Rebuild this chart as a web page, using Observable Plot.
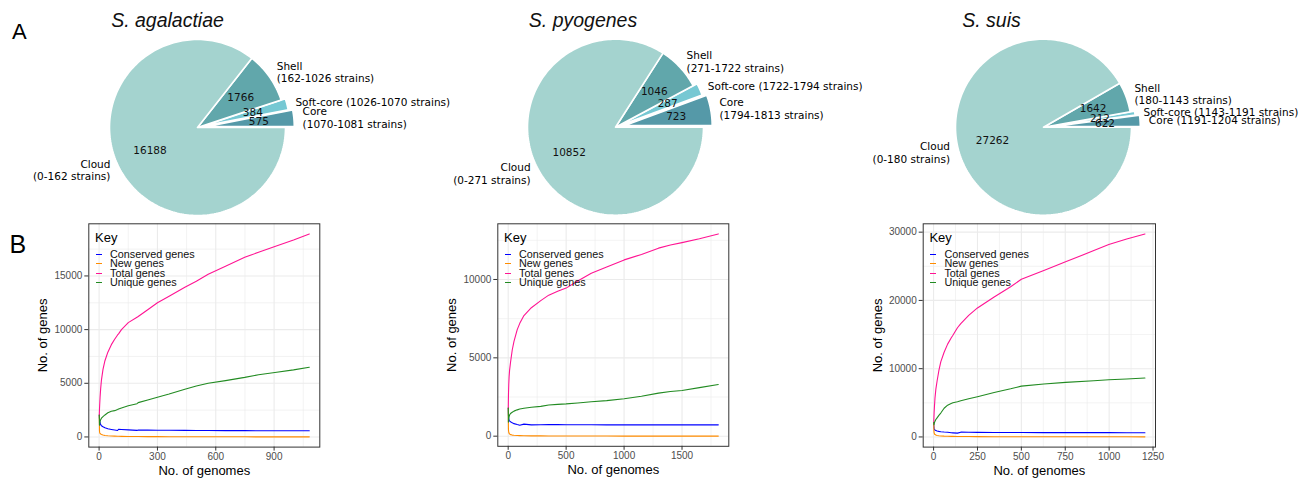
<!DOCTYPE html>
<html><head><meta charset="utf-8">
<script src="https://cdn.jsdelivr.net/npm/d3@7"></script>
<script src="https://cdn.jsdelivr.net/npm/@observablehq/plot@0.6"></script>
<style>
body{margin:0;background:#fff;}
#fig{position:relative;width:1307px;height:478px;overflow:hidden;font-family:"Liberation Sans",Arial,sans-serif;background:#fff;}
#fig svg{position:absolute;}
.t{position:absolute;line-height:1;white-space:nowrap;color:#000;font-family:"Liberation Sans",Arial,sans-serif;}
</style></head><body><div id="fig"></div>
<script>
// ---------- DATA ----------
const speciesNames = ["S. agalactiae", "S. pyogenes", "S. suis"];
const pieCategories = ["Core", "Soft-core", "Shell", "Cloud"];
const agaPieCounts = [575, 384, 1766, 16188];
const agaPieRanges = ["1070-1081", "1026-1070", "162-1026", "0-162"];
const pyoPieCounts = [723, 287, 1046, 10852];
const pyoPieRanges = ["1794-1813", "1722-1794", "271-1722", "0-271"];
const suiPieCounts = [622, 212, 1642, 27262];
const suiPieRanges = ["1191-1204", "1143-1191", "180-1143", "0-180"];

const seriesNames = ["Conserved genes", "New genes", "Total genes", "Unique genes"];

const agaGenomes   = [1, 2, 3, 5, 8, 12, 20, 30, 45, 63, 80, 95, 100, 115, 150, 195, 201, 250, 300, 360, 441, 500, 561, 650, 749, 820, 904, 1000, 1081];
const agaTotal     = [2050, 2600, 3000, 3700, 4500, 5300, 6300, 7100, 7900, 8600, 9100, 9500, 9600, 10000, 10650, 11150, 11220, 11850, 12500, 13100, 13950, 14500, 15150, 15900, 16750, 17200, 17750, 18350, 18913];
const agaConserved = [2050, 1700, 1500, 1300, 1150, 1050, 950, 850, 760, 700, 650, 600, 720, 700, 660, 610, 650, 640, 630, 620, 610, 600, 595, 590, 585, 582, 580, 578, 575];
const agaNew       = [2050, 550, 400, 330, 280, 230, 180, 140, 110, 90, 75, 65, 60, 55, 45, 38, 38, 32, 28, 24, 20, 18, 16, 14, 12, 11, 10, 9, 8];
const agaUnique    = [2050, 1100, 1250, 1450, 1600, 1750, 1900, 2050, 2250, 2400, 2450, 2550, 2600, 2700, 2900, 3100, 3200, 3450, 3700, 4000, 4450, 4750, 5000, 5250, 5550, 5800, 6000, 6250, 6500];

const pyoGenomes   = [1, 2, 3, 5, 8, 12, 20, 35, 50, 78, 100, 136, 200, 281, 350, 427, 500, 600, 717, 850, 1001, 1150, 1297, 1400, 1500, 1650, 1813];
const pyoTotal     = [1800, 2400, 2800, 3300, 3800, 4200, 4700, 5500, 6050, 6800, 7200, 7700, 8200, 8650, 9000, 9250, 9450, 9900, 10400, 10800, 11250, 11600, 12000, 12200, 12350, 12600, 12908];
const pyoConserved = [1800, 1450, 1250, 1100, 1020, 980, 920, 850, 800, 740, 700, 770, 720, 730, 740, 735, 730, 728, 726, 725, 725, 724, 724, 723, 723, 723, 723];
const pyoNew       = [1800, 500, 350, 250, 180, 140, 100, 70, 55, 40, 35, 28, 22, 18, 15, 13, 12, 10, 9, 8, 7, 6, 6, 5, 5, 5, 4];
const pyoUnique    = [1800, 900, 1000, 1150, 1250, 1350, 1450, 1530, 1600, 1680, 1730, 1780, 1850, 1900, 1990, 2030, 2060, 2120, 2200, 2270, 2390, 2550, 2750, 2850, 2920, 3100, 3300];

const suiGenomes   = [1, 2, 3, 5, 8, 13, 20, 30, 41, 60, 80, 100, 110, 136, 155, 200, 250, 345, 439, 500, 628, 752, 913, 998, 1100, 1204];
const suiTotal     = [2100, 2900, 3500, 4500, 5700, 7000, 8200, 9700, 11000, 12400, 13600, 14500, 14900, 16000, 16600, 17800, 18900, 20500, 22000, 23100, 24400, 25650, 27300, 28200, 29000, 29738];
const suiConserved = [2100, 1500, 1250, 1100, 1000, 950, 880, 820, 770, 720, 680, 620, 600, 560, 700, 680, 670, 660, 650, 645, 640, 635, 630, 627, 624, 622];
const suiNew       = [2100, 900, 600, 450, 350, 280, 220, 180, 150, 120, 100, 85, 80, 70, 65, 55, 48, 40, 35, 32, 28, 25, 22, 20, 19, 18];
const suiUnique    = [2100, 1800, 1900, 2100, 2300, 2550, 2800, 3150, 3500, 4200, 4650, 4900, 5000, 5150, 5300, 5600, 5900, 6500, 7050, 7450, 7750, 7990, 8230, 8380, 8500, 8632];

const agaXTicks = [0, 300, 600, 900];
const agaYTicks = [0, 5000, 10000, 15000];
const pyoXTicks = [0, 500, 1000, 1500];
const pyoYTicks = [0, 5000, 10000];
const suiXTicks = [0, 250, 500, 750, 1000, 1250];
const suiYTicks = [0, 10000, 20000, 30000];

// ---------- STYLE / LAYOUT ----------
const pieColors = {"Core": "#5599a8", "Soft-core": "#76c8d3", "Shell": "#61a7ab", "Cloud": "#a4d3cf"};
const pieExplode = {"Core": 0.1, "Soft-core": 0.05, "Shell": 0, "Cloud": 0};
const lineColors = ["#0000ff", "#ff8c00", "#ff1493", "#228b22"];
const fig = document.getElementById("fig");
const SANS = "'Liberation Sans', Arial, sans-serif";
const MPL = "'DejaVu Sans', sans-serif";

function addText(txt, left, top, size) {
  const d = document.createElement("div");
  d.className = "t"; d.textContent = txt;
  d.style.left = left + "px"; d.style.top = top + "px"; d.style.fontSize = size + "px";
  fig.appendChild(d); return d;
}

// ---------- PIES ----------
const pies = [
  {counts: agaPieCounts, ranges: agaPieRanges, cx: 197, cy: 127, r: 88, tx: 167, coreOneLine: false},
  {counts: pyoPieCounts, ranges: pyoPieRanges, cx: 615, cy: 126.7, r: 88, tx: 582.5, coreOneLine: false},
  {counts: suiPieCounts, ranges: suiPieRanges, cx: 1043, cy: 126.7, r: 88, tx: 991, coreOneLine: true}
];

const pieMarks = [];
const labelRight = [], labelLeft = [], pctRows = [], titleRows = [];
pies.forEach((p, si) => {
  const total = d3.sum(p.counts);
  let acc = 0;
  pieCategories.forEach((cat, i) => {
    const a0 = acc / total * 2 * Math.PI; acc += p.counts[i];
    const a1 = acc / total * 2 * Math.PI;
    const mid = (a0 + a1) / 2;
    const ex = pieExplode[cat] * p.r;
    const ox = p.cx + ex * Math.cos(mid), oy = p.cy - ex * Math.sin(mid);
    const n = Math.max(3, Math.ceil((a1 - a0) / (Math.PI / 120)));
    const pts = [{x: ox, y: oy}];
    for (let k = 0; k <= n; k++) {
      const a = a0 + (a1 - a0) * k / n;
      pts.push({x: ox + p.r * Math.cos(a), y: oy - p.r * Math.sin(a)});
    }
    pts.push({x: ox, y: oy});
    pieMarks.push(Plot.line(pts, {x: "x", y: "y", fill: pieColors[cat], stroke: "white", strokeWidth: 1.6, strokeLinejoin: "miter"}));
    const oneLine = cat === "Soft-core" || (cat === "Core" && p.coreOneLine);
    const text = oneLine ? `${cat} (${p.ranges[i]} strains)` : `${cat}\n(${p.ranges[i]} strains)`;
    const lx = ox + 1.1 * p.r * Math.cos(mid), ly = oy - 1.1 * p.r * Math.sin(mid);
    (Math.cos(mid) >= 0 ? labelRight : labelLeft).push({x: lx, y: ly, text});
    pctRows.push({x: ox + 0.6 * p.r * Math.cos(mid), y: oy - 0.6 * p.r * Math.sin(mid), text: String(p.counts[i])});
  });
  titleRows.push({x: p.tx, y: 20.6, text: speciesNames[si]});
});

const piePlot = Plot.plot({
  width: 1307, height: 220, margin: 0,
  x: {domain: [0, 1307], range: [0, 1307], axis: null},
  y: {domain: [0, 220], range: [0, 220], axis: null},
  style: {background: "none", overflow: "visible"},
  marks: [
    ...pieMarks,
    Plot.text(labelRight, {x: "x", y: "y", text: "text", textAnchor: "start", lineAnchor: "middle", lineHeight: 1.2, fontSize: 10.5, fontFamily: MPL, fill: "#000"}),
    Plot.text(labelLeft, {x: "x", y: "y", text: "text", textAnchor: "end", lineAnchor: "middle", lineHeight: 1.2, fontSize: 10.5, fontFamily: MPL, fill: "#000"}),
    Plot.text(pctRows, {x: "x", y: "y", text: "text", textAnchor: "middle", lineAnchor: "middle", fontSize: 10.5, fontFamily: MPL, fill: "#111"}),
    Plot.text(titleRows, {x: "x", y: "y", text: "text", textAnchor: "middle", lineAnchor: "middle", fontSize: 19.5, fontStyle: "italic", fontFamily: SANS, fill: "#111"})
  ]
});
piePlot.style.left = "0px"; piePlot.style.top = "0px";
fig.appendChild(piePlot);

// ---------- LINE PANELS ----------
function minorBetween(ticks, dom) {
  const step = ticks[1] - ticks[0];
  const out = [];
  for (let v = ticks[0] - step / 2; v <= dom[1]; v += step) if (v >= dom[0]) out.push(v);
  return out;
}

function panel(cfg) {
  const rows = [];
  const vals = [cfg.cons, cfg.neu, cfg.tot, cfg.uni];
  seriesNames.forEach((s, k) => cfg.genomes.forEach((g, i) => rows.push({g, v: vals[k][i], s})));
  const gx = d3.extent(cfg.genomes), gy = d3.extent(rows, d => d.v);
  const xdom = [gx[0] - 0.05 * (gx[1] - gx[0]), gx[1] + 0.05 * (gx[1] - gx[0])];
  const ylo = Math.min(0, gy[0]);
  const ydom = [ylo - 0.05 * (gy[1] - ylo), gy[1] + 0.05 * (gy[1] - ylo)];
  const fmt = d => String(d);
  const el = Plot.plot({
    width: cfg.width, height: 258,
    marginLeft: cfg.ml, marginRight: cfg.mr, marginTop: 3.3, marginBottom: cfg.mb,
    x: {domain: xdom}, y: {domain: ydom},
    color: {domain: seriesNames, range: lineColors},
    style: {background: "none", overflow: "visible", fontFamily: SANS},
    marks: [
      Plot.gridX(minorBetween(cfg.xt, xdom), {stroke: "#ebebeb", strokeOpacity: 1, strokeWidth: 0.6}),
      Plot.gridY(minorBetween(cfg.yt, ydom), {stroke: "#ebebeb", strokeOpacity: 1, strokeWidth: 0.6}),
      Plot.gridX(cfg.xt, {stroke: "#ebebeb", strokeOpacity: 1, strokeWidth: 1.1}),
      Plot.gridY(cfg.yt, {stroke: "#ebebeb", strokeOpacity: 1, strokeWidth: 1.1}),
      Plot.line(rows, {x: "g", y: "v", z: "s", stroke: "s", strokeWidth: 1.1}),
      Plot.frame({stroke: "#333", strokeWidth: 1}),
      Plot.axisX(cfg.xt, {tickSize: 4, tickPadding: 2, stroke: "#333", fill: "#4d4d4d", fontSize: 10, label: null, tickFormat: fmt}),
      Plot.axisY(cfg.yt, {tickSize: 4, tickPadding: 2.5, stroke: "#333", fill: "#4d4d4d", fontSize: 10, label: null, tickFormat: fmt}),
      Plot.text(["No. of genes"], {text: d => d, frameAnchor: "left", dx: -45.7, rotate: -90, textAnchor: "middle", lineAnchor: "middle", fontSize: 13, fill: "#000"}),
      Plot.text(["No. of genomes"], {text: d => d, frameAnchor: "bottom", dy: 23.3, textAnchor: "middle", lineAnchor: "middle", fontSize: 13, fill: "#000"})
    ]
  });
  el.style.left = cfg.left + "px"; el.style.top = "220px";
  fig.appendChild(el);

  // legend (inside panel, top-left)
  const FL = cfg.left + cfg.ml;
  addText("Key", FL + 6.7, 231, 13);
  const baselines = [258, 267.4, 276.8, 286.3];
  seriesNames.forEach((s, k) => {
    const key = document.createElement("div");
    key.style.cssText = `position:absolute;left:${FL + 7.4}px;top:${baselines[k] - 4.3}px;width:6px;height:1.2px;background:${lineColors[k]};`;
    fig.appendChild(key);
    const t = addText(s, FL + 21.7, baselines[k] - 9.1, 10.8);
    t.style.color = "#111";
  });
}

panel({genomes: agaGenomes, cons: agaConserved, neu: agaNew, tot: agaTotal, uni: agaUnique,
       xt: agaXTicks, yt: agaYTicks, left: 0, width: 330, ml: 88.3, mr: 10.7, mb: 31.4});
panel({genomes: pyoGenomes, cons: pyoConserved, neu: pyoNew, tot: pyoTotal, uni: pyoUnique,
       xt: pyoXTicks, yt: pyoYTicks, left: 440, width: 300, ml: 57.3, mr: 11.7, mb: 32.2});
panel({genomes: suiGenomes, cons: suiConserved, neu: suiNew, tot: suiTotal, uni: suiUnique,
       xt: suiXTicks, yt: suiYTicks, left: 860, width: 310, ml: 62.7, mr: 15, mb: 31.4});

// panel letters
addText("A", 12, 21.4, 22);
addText("B", 9.5, 231.5, 25);
</script></body></html>
